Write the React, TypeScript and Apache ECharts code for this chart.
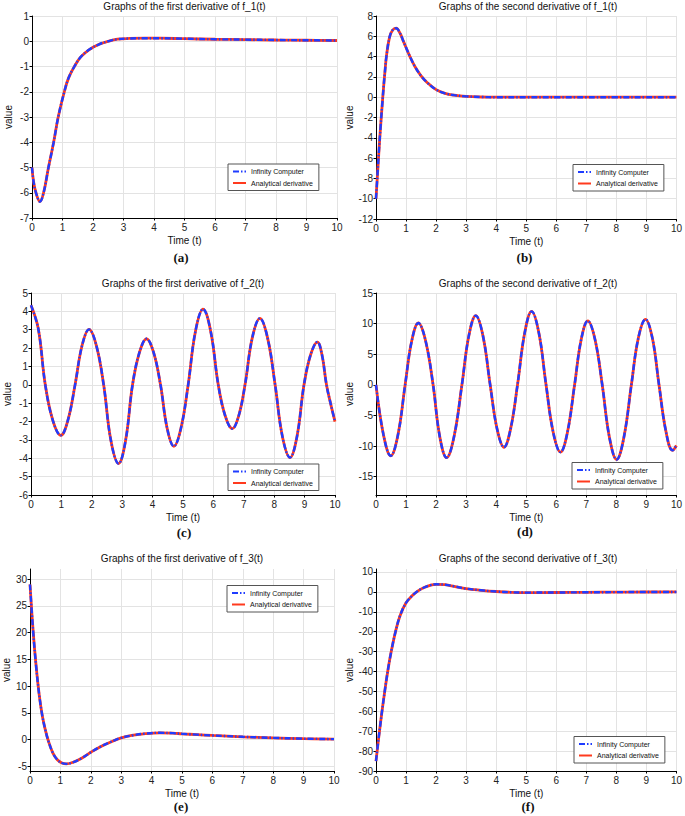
import React, { useEffect, useRef } from "react";
import * as echarts from "echarts";

// ---------- data ----------
const legendNames = ["Infinity Computer", "Analytical derivative"];
const xTicks = [0, 1, 2, 3, 4, 5, 6, 7, 8, 9, 10];

const titles = [
  "Graphs of the first derivative of f_1(t)",
  "Graphs of the second derivative of f_1(t)",
  "Graphs of the first derivative of f_2(t)",
  "Graphs of the second derivative of f_2(t)",
  "Graphs of the first derivative of f_3(t)",
  "Graphs of the second derivative of f_3(t)",
];
const letters = ["(a)", "(b)", "(c)", "(d)", "(e)", "(f)"];

// (a) first derivative of f_1
const tA = [0, 0.05, 0.13, 0.26, 0.38, 0.54, 0.71, 0.86, 1.06, 1.2, 1.39, 1.6, 1.88, 2.2, 2.5, 2.8, 3.2, 3.7, 4.2, 5, 6, 7, 8, 9, 10];
const vA = [-5.0, -5.55, -6.0, -6.35, -6.0, -5.0, -4.0, -3.0, -2.0, -1.45, -1.0, -0.62, -0.33, -0.12, 0.0, 0.08, 0.11, 0.12, 0.12, 0.1, 0.08, 0.065, 0.05, 0.04, 0.03];
const yTicksA = [-7, -6, -5, -4, -3, -2, -1, 0, 1];

// (b) second derivative of f_1
const tB = [0, 0.05, 0.1, 0.15, 0.2, 0.25, 0.3, 0.35, 0.45, 0.55, 0.67, 0.8, 0.9, 1.0, 1.13, 1.3, 1.5, 1.7, 2.0, 2.3, 2.6, 3.0, 3.5, 4, 5, 6, 7, 8, 9, 10];
const vB = [-10, -7.6, -5.2, -3.0, -1.0, 0.9, 2.6, 4.1, 5.9, 6.6, 6.8, 6.3, 5.6, 4.9, 4.0, 3.0, 2.1, 1.45, 0.75, 0.38, 0.2, 0.08, 0.02, 0.0, 0, 0, 0, 0, 0, 0];
const yTicksB = [-12, -10, -8, -6, -4, -2, 0, 2, 4, 6, 8];

// (c) first derivative of f_2
const tC = [0, 0.24, 0.47, 0.72, 0.98, 1.21, 1.45, 1.68, 1.91, 2.15, 2.39, 2.63, 2.88, 3.11, 3.34, 3.57, 3.8, 4.03, 4.26, 4.48, 4.7, 4.93, 5.17, 5.41, 5.66, 5.91, 6.16, 6.39, 6.62, 6.83, 7.04, 7.28, 7.53, 7.78, 8.03, 8.27, 8.52, 8.75, 8.98, 9.2, 9.42, 9.57, 9.72, 9.86, 10];
const vC = [4.33, 3.05, 0, -1.95, -2.75, -1.95, 0, 2.14, 3.02, 2.14, 0, -3.05, -4.29, -3.05, 0, 1.78, 2.51, 1.78, 0, -2.38, -3.35, -2.38, 0, 2.92, 4.12, 2.92, 0, -1.7, -2.39, -1.7, 0, 2.57, 3.62, 2.57, 0, -2.81, -3.96, -2.81, 0, 1.65, 2.33, 1.65, 0, -1.05, -2.0];
const yTicksC = [-6, -5, -4, -3, -2, -1, 0, 1, 2, 3, 4, 5];

// (d) second derivative of f_2
const tD = [0, 0.25, 0.49, 0.73, 0.97, 1.19, 1.41, 1.65, 1.9, 2.12, 2.35, 2.6, 2.86, 3.09, 3.32, 3.56, 3.8, 4.03, 4.26, 4.48, 4.71, 4.95, 5.18, 5.42, 5.66, 5.9, 6.14, 6.37, 6.61, 6.83, 7.05, 7.29, 7.53, 7.77, 8.01, 8.25, 8.5, 8.73, 8.97, 9.2, 9.42, 9.65, 9.87, 10];
const vD = [0, -8.2, -11.6, -8.2, 0, 7.2, 10.1, 7.2, 0, -8.4, -11.9, -8.4, 0, 8.0, 11.3, 8.0, 0, -7.2, -10.2, -7.2, 0, 8.5, 12.0, 8.5, 0, -7.8, -11.0, -7.8, 0, 7.4, 10.45, 7.4, 0, -8.6, -12.2, -8.6, 0, 7.6, 10.7, 7.6, 0, -7.6, -10.7, -9.9];
const yTicksD = [-15, -10, -5, 0, 5, 10, 15];

// (e) first derivative of f_3
const tE = [0, 0.1, 0.2, 0.3, 0.4, 0.5, 0.6, 0.75, 0.9, 1.05, 1.2, 1.4, 1.7, 2.0, 2.3, 2.6, 3.0, 3.4, 3.8, 4.27, 4.7, 5, 5.5, 6, 7, 8, 9, 10];
const vE = [29, 20.5, 13.8, 8.5, 4.6, 1.9, -0.2, -2.5, -3.8, -4.4, -4.56, -4.3, -3.5, -2.4, -1.4, -0.6, 0.3, 0.8, 1.1, 1.25, 1.18, 1.06, 0.9, 0.75, 0.5, 0.3, 0.15, 0.06];
const yTicksE = [-5, 0, 5, 10, 15, 20, 25, 30];

// (f) second derivative of f_3
const tF = [0, 0.1, 0.2, 0.3, 0.4, 0.5, 0.65, 0.8, 1.0, 1.2, 1.4, 1.6, 1.8, 2.0, 2.3, 2.6, 3.0, 3.5, 4.0, 4.5, 5, 6, 7, 8, 9, 10];
const vF = [-85, -72, -60, -49, -39, -30.5, -20, -12, -5.5, -2, 0.5, 2.2, 3.3, 3.8, 3.6, 2.8, 1.6, 0.8, 0.2, -0.2, -0.35, -0.3, -0.2, -0.12, -0.06, -0.03];
const yTicksF = [-90, -80, -70, -60, -50, -40, -30, -20, -10, 0, 10];

// ---------- layout ----------
const FONT = '"Liberation Sans", Arial, Helvetica, sans-serif';
const BLUE = "#1f3cff";
const RED = "#ff3a1e";

const panels = [
  { t: tA, v: vA, yMin: -7, yMax: 1, yTicks: yTicksA, grid: { left: 32, top: 16, width: 305, height: 202 }, legend: [228, 164], titleY: 6, letterX: 181, letterY: 257 },
  { t: tB, v: vB, yMin: -12, yMax: 8, yTicks: yTicksB, grid: { left: 376, top: 16, width: 304, height: 203 }, legend: [573, 164.5], titleY: 6, letterX: 524.5, letterY: 257 },
  { t: tC, v: vC, yMin: -6, yMax: 5, yTicks: yTicksC, grid: { left: 31, top: 293, width: 304, height: 202 }, legend: [228, 464], titleY: 283, letterX: 184, letterY: 532 },
  { t: tD, v: vD, yMin: -18, yMax: 15, yTicks: yTicksD, grid: { left: 376, top: 293, width: 304, height: 202 }, legend: [572, 462.5], titleY: 283, letterX: 525, letterY: 531 },
  { t: tE, v: vE, yMin: -5.9, yMax: 31.9, yTicks: yTicksE, grid: { left: 30, top: 569, width: 304, height: 202 }, legend: [227, 585.5], titleY: 558.5, letterX: 181, letterY: 806 },
  { t: tF, v: vF, yMin: -90, yMax: 11.5, yTicks: yTicksF, grid: { left: 376, top: 569, width: 304, height: 202 }, legend: [574, 736.5], titleY: 558.5, letterX: 528, letterY: 806 },
];

function buildOption() {
  const grids: any[] = [];
  const xAxes: any[] = [];
  const yAxes: any[] = [];
  const series: any[] = [];
  const legends: any[] = [];
  const graphics: any[] = [];

  panels.forEach((p, i) => {
    grids.push({ ...p.grid, containLabel: false });
    xAxes.push({
      type: "value",
      gridIndex: i,
      min: 0,
      max: 10,
      interval: 1,
      name: "Time (t)",
      nameLocation: "middle",
      nameGap: 17,
      nameTextStyle: { fontSize: 10, color: "#111", fontFamily: FONT },
      axisLine: { show: true, onZero: false, lineStyle: { color: "#000", width: 1 } },
      axisTick: { show: true, length: 2.5, lineStyle: { color: "#000" } },
      axisLabel: { fontSize: 10, color: "#222", margin: 4, fontFamily: FONT, customValues: xTicks },
      splitLine: { show: true, lineStyle: { color: "#e3e3e3", width: 1 } },
    });
    yAxes.push({
      type: "value",
      gridIndex: i,
      min: p.yMin,
      max: p.yMax,
      name: "value",
      nameLocation: "middle",
      nameGap: 19,
      nameTextStyle: { fontSize: 10, color: "#111", fontFamily: FONT },
      axisLine: { show: true, onZero: false, lineStyle: { color: "#000", width: 1 } },
      axisTick: { show: true, length: 2.5, lineStyle: { color: "#000" }, customValues: p.yTicks },
      axisLabel: { fontSize: 10, color: "#222", margin: 3, fontFamily: FONT, customValues: p.yTicks },
      splitLine: { show: true, lineStyle: { color: "#e3e3e3", width: 1 } },
    });
    const data = p.t.map((x, j) => [x, p.v[j]]);
    series.push({
      type: "line",
      name: legendNames[1],
      xAxisIndex: i,
      yAxisIndex: i,
      data,
      smooth: 0.4,
      symbol: "none",
      lineStyle: { color: RED, width: 2.8, type: "solid" },
      itemStyle: { color: RED },
      z: 2,
    });
    series.push({
      type: "line",
      name: legendNames[0],
      xAxisIndex: i,
      yAxisIndex: i,
      data,
      smooth: 0.4,
      symbol: "none",
      lineStyle: { color: BLUE, width: 2.4, type: [6, 2, 1.5, 2] },
      itemStyle: { color: BLUE },
      z: 3,
    });
    legends.push({
      orient: "vertical",
      left: p.legend[0],
      top: p.legend[1],
      data: legendNames,
      selectedMode: false,
      itemWidth: 13,
      itemHeight: 8,
      itemGap: 4.5,
      padding: [4, 6, 4, 4],
      borderColor: "#555",
      borderWidth: 1,
      backgroundColor: "#fff",
      itemStyle: { color: "rgba(0,0,0,0)", borderWidth: 0, opacity: 0 },
      lineStyle: { width: 2 },
      textStyle: { fontSize: 7, color: "#111", fontFamily: FONT },
    });
    const cx = p.grid.left + p.grid.width / 2;
    graphics.push({
      type: "text",
      x: cx,
      y: p.titleY,
      style: { text: titles[i], fontSize: 10, fontFamily: FONT, fill: "#111", align: "center", verticalAlign: "middle" },
    });
    graphics.push({
      type: "text",
      x: p.letterX,
      y: p.letterY,
      style: { text: letters[i], fontSize: 13, fontWeight: "bold", fontFamily: '"Liberation Serif", "Times New Roman", serif', fill: "#111", align: "center", verticalAlign: "middle" },
    });
  });

  return {
    animation: false,
    backgroundColor: "#fff",
    textStyle: { fontFamily: FONT },
    grid: grids,
    xAxis: xAxes,
    yAxis: yAxes,
    legend: legends,
    series,
    graphic: graphics,
  };
}

export default function App() {
  const ref = useRef<HTMLDivElement>(null);
  useEffect(() => {
    if (!ref.current) return;
    const chart = echarts.init(ref.current, null, { renderer: "svg" });
    chart.setOption(buildOption() as any);
    return () => chart.dispose();
  }, []);
  return (
    <div
      ref={ref}
      style={{ position: "absolute", left: 0, top: 0, width: 685, height: 816, background: "#fff" }}
    />
  );
}
